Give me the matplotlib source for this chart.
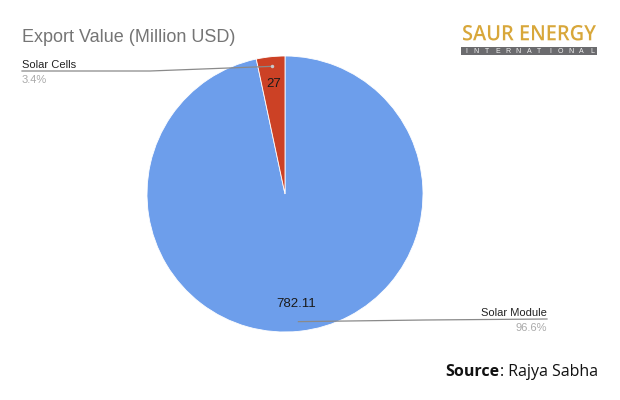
import numpy as np
import matplotlib
matplotlib.use("Agg")
import matplotlib.pyplot as plt
from matplotlib.lines import Line2D
from matplotlib.patches import Rectangle, PathPatch
from matplotlib.textpath import TextPath
from matplotlib.font_manager import FontProperties
from matplotlib.transforms import Affine2D

# Data
categories = ["Solar Module", "Solar Cells"]
values = [782.11, 27]
value_labels = ["782.11", "27"]
pct_labels = ["96.6%", "3.4%"]
colors = ["#6d9eeb", "#cc4125"]

W, H = 620, 400
fig = plt.figure(figsize=(W / 100, H / 100), dpi=100)
fig.patch.set_facecolor("white")

def px(x, y):
    # pixel coords (top-left origin) -> figure fraction
    return x / W, 1 - y / H

# pie axes: center ~ (285, 194), radius ~ 138 px
cx, cy, r = 285, 194, 138
ax = fig.add_axes([(cx - r) / W, (H - cy - r) / H, 2 * r / W, 2 * r / H])
wedges, _ = ax.pie(values, colors=colors, startangle=90, counterclock=False,
                   wedgeprops=dict(edgecolor="white", linewidth=0.6), radius=1.0)
ax.set_xlim(-1, 1)
ax.set_ylim(-1, 1)
ax.set_aspect("equal")
ax.axis("off")

base_font = "Liberation Sans"

def mid_point(w, rr):
    mid = np.deg2rad((w.theta1 + w.theta2) / 2)
    return rr * np.cos(mid), rr * np.sin(mid)

# value labels inside slices
for w, lab in zip(wedges, value_labels):
    x, y = mid_point(w, 0.80)
    ax.text(x, y, lab, ha="center", va="center",
            fontsize=9.5, color="#1a1a1a", family=base_font)

def to_fig(xd, yd):
    return fig.transFigure.inverted().transform(ax.transData.transform((xd, yd)))

# Solar Cells (left, top)
a0 = to_fig(*mid_point(wedges[1], 0.93))
p1 = px(150, 71)
p2 = px(22, 71)
fig.add_artist(Line2D([a0[0], p1[0], p2[0]], [a0[1], p1[1], p2[1]],
                      transform=fig.transFigure, color="#8a8a8a", lw=0.9))
fig.add_artist(Line2D([a0[0]], [a0[1]], transform=fig.transFigure, marker="o",
                      ms=2.5, color="#c8c8c8", mec="none"))
fig.text(*px(22, 68), categories[1], ha="left", va="baseline", fontsize=8,
         color="#222222", family=base_font)
fig.text(*px(22, 83), pct_labels[1], ha="left", va="baseline", fontsize=8,
         color="#aaaaaa", family=base_font)

# Solar Module (right, bottom)
am = to_fig(*mid_point(wedges[0], 0.93))
q1 = px(425, 320)
q2 = px(547, 319)
fig.add_artist(Line2D([am[0], q1[0], q2[0]], [am[1], q1[1], q2[1]],
                      transform=fig.transFigure, color="#8a8a8a", lw=0.9))
fig.text(*px(547, 316), categories[0], ha="right", va="baseline", fontsize=8,
         color="#222222", family=base_font)
fig.text(*px(547, 331), pct_labels[0], ha="right", va="baseline", fontsize=8,
         color="#aaaaaa", family=base_font)

# title
fig.text(*px(22, 42), "Export Value (Million USD)", ha="left", va="baseline",
         fontsize=13, color="#757575", family=base_font)

# logo: condensed word mark squeezed into its box
tp = TextPath((0, 0), "SAUR ENERGY", size=20,
              prop=FontProperties(family="Open Sans", weight="semibold"))
bb = tp.get_extents()
lx0, ly0 = 463, 25
lw, lh = 133, 15.5
sx, sy = lw / bb.width, lh / bb.height
trans = Affine2D().translate(-bb.x0, -bb.y0).scale(sx, sy).translate(lx0, H - ly0 - lh)
fig.add_artist(PathPatch(trans.transform_path(tp), transform=None,
                         facecolor="#d8a73a", edgecolor="none"))
bx0, by0 = px(461, 55)
fig.add_artist(Rectangle((bx0, by0), 136 / W, 7.5 / H, transform=fig.transFigure,
                         facecolor="#6b6b6e", edgecolor="none"))
letters = "INTERNATIONAL"
for i, ch in enumerate(letters):
    xx = 466 + i * (126 / (len(letters) - 1))
    fig.text(*px(xx, 51.5), ch, ha="center", va="center", fontsize=5,
             color="#f2f2f2", family=base_font)

# source
fig.text(*px(445, 376), "Source", ha="left", va="baseline", fontsize=11.5,
         color="#111111", family="Open Sans", weight="bold")
fig.text(*px(500, 376), ": Rajya Sabha", ha="left", va="baseline", fontsize=11.5,
         color="#111111", family="Open Sans")

fig.savefig("out.png", dpi=100, facecolor="white")
